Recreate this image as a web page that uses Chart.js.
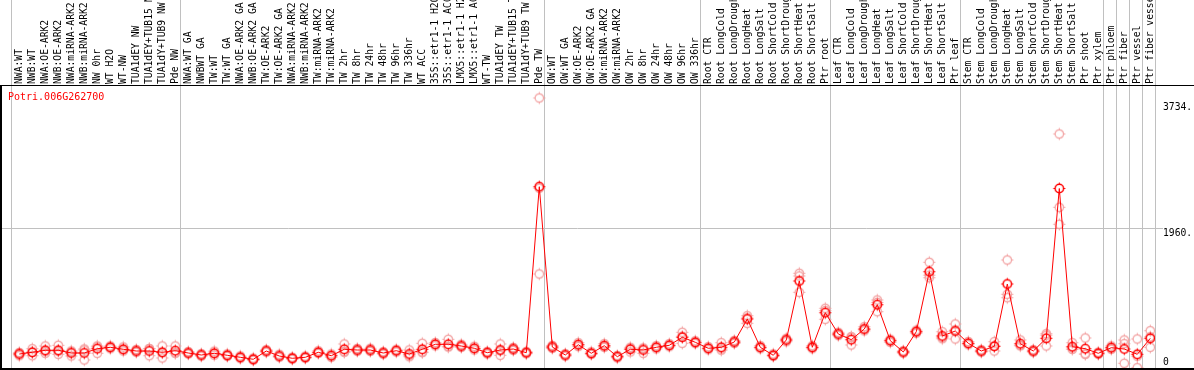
<!DOCTYPE html>
<html>
<head>
<meta charset="utf-8">
<script src="https://cdn.jsdelivr.net/npm/chart.js@4/dist/chart.umd.min.js"></script>
<style>
  html, body { margin: 0; padding: 0; background: #fff; }
  #wrap { width: 1194px; height: 370px; }
</style>
</head>
<body>
<div id="wrap"><canvas id="chart" width="1194" height="370"></canvas></div>
<script>
const geneId = "Potri.006G262700"

const categories = [
  "NWA:WT", "NWB:WT", "NWA:OE-ARK2", "NWB:OE-ARK2", "NWA:miRNA-ARK2", "NWB:miRNA-ARK2", "NW 0hr", "WT H2O", "WT-NW",
  "TUA1dEY NW", "TUA1dEY+TUB15 NW", "TUA1dY+TUB9 NW", "Pde NW",
  "NWA:WT GA", "NWBWT GA", "TW:WT", "TW:WT GA", "NWA:OE-ARK2 GA", "NWB:OE-ARK2 GA", "TW:OE-ARK2", "TW:OE-ARK2 GA",
  "NWA:miRNA-ARK2 GA", "NWB:miRNA-ARK2 GA", "TW:miRNA-ARK2", "TW:miRNA-ARK2", "TW 2hr", "TW 8hr", "TW 24hr", "TW 48hr",
  "TW 96hr", "TW 336hr", "WT ACC", "35S::etr1-1 H2O", "35S::etr1-1 ACC", "LMX5::etr1-1 H2O", "LMX5::etr1-1 ACC",
  "WT-TW", "TUA1dEY TW", "TUA1dEY+TUB15 TW", "TUA1dY+TUB9 TW", "Pde TW",
  "OW:WT", "OW:WT GA", "OW:OE-ARK2", "OW:OE-ARK2 GA", "OW:miRNA-ARK2", "OW:miRNA-ARK2", "OW 2hr", "OW 8hr",
  "OW 24hr", "OW 48hr", "OW 96hr", "OW 336hr",
  "Root CTR", "Root LongCold", "Root LongDrought", "Root LongHeat", "Root LongSalt", "Root ShortCold",
  "Root ShortDrought", "Root ShortHeat", "Root ShortSalt", "Ptr root",
  "Leaf CTR", "Leaf LongCold", "Leaf LongDrought", "Leaf LongHeat", "Leaf LongSalt", "Leaf ShortCold",
  "Leaf ShortDrought", "Leaf ShortHeat", "Leaf ShortSalt", "Ptr leaf",
  "Stem CTR", "Stem LongCold", "Stem LongDrought", "Stem LongHeat", "Stem LongSalt", "Stem ShortCold",
  "Stem ShortDrought", "Stem ShortHeat", "Stem ShortSalt", "Ptr shoot", "Ptr xylem",
  "Ptr phloem", "Ptr fiber", "Ptr vessel", "Ptr fiber vessel"
]

// mean expression (red line)
const meanExpr = [
  196, 220, 248, 248, 210, 210, 270, 290, 262, 238, 238, 220, 242,
  210, 182, 206, 178, 150, 122, 238, 168, 136, 150, 220, 172, 262, 252, 252, 210,
  242, 196, 262, 332, 332, 308, 276, 214, 252, 266, 214, 2538,
  294, 182, 326, 206, 312, 158, 262, 252, 290, 318, 430, 360,
  276, 290, 364, 686, 290, 178, 392, 1218, 290, 774,
  476, 396, 546, 886, 382, 224, 508, 1348, 448, 518,
  346, 238, 304, 1176, 340, 238, 416, 2513, 298, 270, 206,
  284, 266, 192, 416
]

// replicates (pink circles)
const rep1 = [
  218, 270, 308, 318, 238, 252, 308, 308, 294, 260, 270, 308, 308,
  230, 200, 236, 196, 168, 138, 256, 192, 150, 166, 240, 196, 336, 274, 276, 228,
  262, 252, 346, 356, 402, 332, 304, 232, 336, 288, 232, 3780,
  316, 200, 354, 226, 340, 176, 290, 280, 312, 340, 500, 380,
  298, 354, 386, 732, 312, 196, 416, 1326, 312, 836,
  500, 440, 578, 952, 404, 240, 530, 1480, 508, 616,
  370, 256, 368, 1512, 392, 256, 480, 3276, 354, 420, 220,
  308, 392, 406, 522
]
const rep2 = [
  172, 172, 206, 192, 168, 112, 206, 270, 238, 220, 172, 140, 210,
  196, 166, 180, 162, 132, 108, 222, 150, 122, 136, 204, 150, 230, 234, 232, 194,
  224, 158, 216, 310, 296, 288, 252, 198, 178, 246, 200, 1316,
  274, 166, 300, 190, 290, 142, 224, 206, 268, 298, 346, 342,
  256, 250, 344, 626, 270, 162, 368, 1060, 270, 682,
  454, 322, 520, 788, 360, 208, 488, 1264, 410, 406,
  326, 222, 238, 984, 310, 222, 308, 2012, 260, 192, 190,
  262, 66, 4, 290
]
const rep3 = [
  198, 218, 230, 234, 224, 266, 296, 292, 254, 234, 272, 212, 208,
  204, 180, 202, 176, 150, 120, 236, 162, 136, 148, 216, 170, 220, 248, 248, 208,
  240, 178, 224, 330, 298, 304, 272, 212, 242, 264, 210, 2518,
  292, 180, 324, 202, 306, 156, 272, 270, 290, 316, 444, 358,
  274, 266, 362, 700, 288, 176, 392, 1288, 288, 804,
  474, 426, 540, 918, 382, 224, 506, 1300, 426, 532,
  342, 236, 306, 1032, 318, 236, 460, 2250, 280, 198, 208,
  282, 340, 166, 436
]

const yTicks = [0, 1960, 3734]
const yMax = 3948
// separators after these category indexes
const groupEnds = [-1, 12, 40, 52, 62, 72, 83, 84, 85, 86, 87]

const FONT = "DejaVu Sans Mono"
const RED = "#ff0000"
const PINK = "#f2a0a0"
const GRID = "#c0c0c0"

// open circle with four short ticks, like the original markers
function marker(color, lw) {
  const c = document.createElement("canvas")
  c.width = 15; c.height = 15
  const g = c.getContext("2d")
  g.strokeStyle = color
  g.lineWidth = lw
  g.beginPath(); g.arc(7.5, 7.5, 4.2, 0, Math.PI * 2); g.stroke()
  g.lineWidth = 1
  g.beginPath()
  g.moveTo(7.5, 1.5); g.lineTo(7.5, 3)
  g.moveTo(7.5, 12); g.lineTo(7.5, 13.5)
  g.moveTo(1.5, 7.5); g.lineTo(3, 7.5)
  g.moveTo(12, 7.5); g.lineTo(13.5, 7.5)
  g.stroke()
  return c
}

const toPts = arr => arr.map((v, i) => ({ x: i, y: v }))

const frame = {
  id: "frame",
  beforeDatasetsDraw(chart) {
    const { ctx, scales: { x } } = chart
    ctx.save()
    ctx.strokeStyle = GRID
    ctx.lineWidth = 1
    groupEnds.forEach(i => {
      const px = Math.round(x.getPixelForValue(i + 0.36)) + 0.5
      ctx.beginPath(); ctx.moveTo(px, 0); ctx.lineTo(px, 368); ctx.stroke()
    })
    ctx.fillStyle = "#000"
    ctx.fillRect(0, 85, 1194, 1)
    ctx.fillRect(0, 368, 1194, 2)
    ctx.fillRect(0, 86, 2, 284)
    ctx.fillStyle = RED
    ctx.font = "10px '" + FONT + "'"
    ctx.textBaseline = "middle"
    ctx.fillText(geneId, 8, 97)
    ctx.restore()
  }
}

new Chart(document.getElementById("chart"), {
  type: "line",
  data: {
    datasets: [
      { data: toPts(meanExpr), borderColor: RED, borderWidth: 1, pointStyle: marker(RED, 1.5), pointRadius: 7, tension: 0 },
      { data: toPts(rep1), showLine: false, pointStyle: marker(PINK, 1.2), pointRadius: 7 },
      { data: toPts(rep2), showLine: false, pointStyle: marker(PINK, 1.2), pointRadius: 7 },
      { data: toPts(rep3), showLine: false, pointStyle: marker(PINK, 1.2), pointRadius: 7 }
    ]
  },
  options: {
    responsive: false, animation: false,
    layout: { padding: { left: 0, right: 0, top: 0, bottom: 2 }, autoPadding: false },
    plugins: { legend: { display: false }, tooltip: { enabled: false } },
    scales: {
      x: {
        type: "linear", position: "top", min: -1.4846, max: 87.3616,
        afterBuildTicks: s => { s.ticks = categories.map((_, i) => ({ value: i })) },
        afterFit: s => { s.height = 86; s.paddingLeft = 0; s.paddingRight = 0 },
        grid: { display: false, drawTicks: false }, border: { display: false },
        ticks: {
          autoSkip: false, minRotation: 90, maxRotation: 90, padding: 2, labelOffset: 12,
          font: { family: FONT, size: 9.7 }, color: "#000",
          callback: v => categories[v]
        }
      },
      y: {
        position: "right", min: 0, max: yMax,
        afterBuildTicks: s => { s.ticks = yTicks.map(v => ({ value: v })) },
        afterFit: s => { s.width = 39; s.paddingTop = 0; s.paddingBottom = 0 },
        border: { display: false },
        grid: { color: c => (c.tick && c.tick.value === 1960) ? GRID : "rgba(0,0,0,0)", tickLength: 8 },
        ticks: {
          padding: 0, font: { family: FONT, size: 9.7 }, color: "#000",
          callback: v => v === 0 ? ["0", ""] : ["", v + "."]
        }
      }
    }
  },
  plugins: [frame]
})
</script>
</body>
</html>
